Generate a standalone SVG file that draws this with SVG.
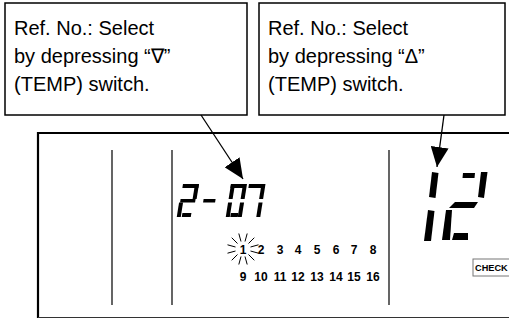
<svg xmlns="http://www.w3.org/2000/svg" width="509" height="320" viewBox="0 0 509 320">
<defs>
<style>
.box{fill:#fff;stroke:#000;stroke-width:1.5}
.t{font-family:"Liberation Sans",Arial,sans-serif;font-size:20px;fill:#000}
.n{font-family:"Liberation Sans",Arial,sans-serif;font-size:12px;font-weight:bold;fill:#000;text-anchor:middle}
.ck{font-family:"Liberation Sans",Arial,sans-serif;font-size:9.2px;font-weight:bold;fill:#000}
.ln{stroke:#000;stroke-width:1.2;fill:none}
.seg{fill:#000}
.ray{stroke:#000;stroke-width:1;fill:none}
.arr{stroke:#000;stroke-width:1.3;fill:none;marker-end:url(#ah)}
</style>
<marker id="ah" markerUnits="userSpaceOnUse" markerWidth="20" markerHeight="18" viewBox="0 0 20 18" refX="20" refY="9" orient="auto">
<path d="M0,0 L20,9 L0,18 z" fill="#000"/>
</marker>
</defs>

<g id="frame">
<path d="M38,318 V133 H509" fill="none" stroke="#000" stroke-width="2.2"/>
<path d="M38,317.5 H509" fill="none" stroke="#333" stroke-width="1.2"/>
<path class="ln" d="M112,150 V305 M172,150 V305 M389,150 V305"/>
</g>

<g id="callout-left">
<rect class="box" x="5" y="3" width="242" height="112"/>
<text class="t" x="14" y="35">Ref. No.: Select</text>
<text class="t" x="14" y="63">by depressing “∇”</text>
<text class="t" x="14" y="91">(TEMP) switch.</text>
</g>

<g id="callout-right">
<rect class="box" x="259" y="3" width="246" height="112"/>
<text class="t" x="268" y="35">Ref. No.: Select</text>
<text class="t" x="268" y="63">by depressing “Δ”</text>
<text class="t" x="268" y="91">(TEMP) switch.</text>
</g>

<g id="connectors">
<path class="arr" d="M201,115 L243,179"/>
<path class="arr" d="M444,115 L437,167"/>
</g>

<g id="ref-no-display">
<g transform="translate(182,184) skewX(-9)">
<rect class="seg" x="1" y="0" width="16" height="4"/>
<rect class="seg" x="13" y="0" width="4" height="15"/>
<rect class="seg" x="1" y="15" width="15" height="3.6"/>
<rect class="seg" x="0" y="18.6" width="4" height="14.4"/>
<rect class="seg" x="5" y="29" width="9" height="4"/>
</g>
<g transform="translate(206,184) skewX(-9)">
<rect class="seg" x="0" y="15" width="12" height="3.6"/>
</g>
<g transform="translate(231,184) skewX(-9)">
<rect class="seg" x="0" y="0" width="15" height="4"/>
<rect class="seg" x="0" y="0" width="4" height="15"/>
<rect class="seg" x="12" y="0" width="4" height="15"/>
<rect class="seg" x="0" y="18.6" width="4" height="14.4"/>
<rect class="seg" x="4.5" y="29" width="7.5" height="4"/>
<rect class="seg" x="12" y="18.6" width="4" height="14.4"/>
</g>
<g transform="translate(249,184) skewX(-9)">
<rect class="seg" x="0" y="0" width="16" height="4"/>
<rect class="seg" x="12.5" y="0" width="4" height="15"/>
<rect class="seg" x="12.5" y="18.6" width="4" height="14.4"/>
</g>
</g>

<g id="unit-numbers">
<g class="ray" transform="translate(243,249)">
<path d="M7.5,2 L15.5,4.2 M5.5,5.5 L11.3,11.3 M2,7.5 L4.2,15.5 M-2,7.5 L-4.2,15.5 M-5.5,5.5 L-11.3,11.3 M-7.5,2 L-15.5,4.2 M-7.5,-2 L-15.5,-4.2 M-5.5,-5.5 L-11.3,-11.3 M-2,-7.5 L-4.2,-15.5 M2,-7.5 L4.2,-15.5 M5.5,-5.5 L11.3,-11.3 M7.5,-2 L15.5,-4.2"/>
</g>
<text class="n" x="243" y="254">1</text>
<text class="n" x="261" y="254">2</text>
<text class="n" x="280" y="254">3</text>
<text class="n" x="298" y="254">4</text>
<text class="n" x="317" y="254">5</text>
<text class="n" x="336" y="254">6</text>
<text class="n" x="354" y="254">7</text>
<text class="n" x="373" y="254">8</text>
<text class="n" x="243" y="281">9</text>
<text class="n" x="261" y="281">10</text>
<text class="n" x="280" y="281">11</text>
<text class="n" x="298" y="281">12</text>
<text class="n" x="317" y="281">13</text>
<text class="n" x="336" y="281">14</text>
<text class="n" x="354" y="281">15</text>
<text class="n" x="373" y="281">16</text>
</g>

<g id="temp-display">
<polygon class="seg" points="432,172 438.5,173 435.5,198 429,197"/>
<polygon class="seg" points="428,210 434.5,211 431,241 424,241"/>
<polygon class="seg" points="463,173 475,173 474.5,178 462.5,178"/>
<polygon class="seg" points="481,172 487.5,172 484,198 478,197"/>
<polygon class="seg" points="455,202 478,202 474,208 449,208"/>
<polygon class="seg" points="446,210 452,210 450,240 442,240"/>
<polygon class="seg" points="454,233 468,233 468,240 452,240"/>
</g>

<g id="check">
<rect x="473" y="259" width="40" height="17" fill="#fff" stroke="#777" stroke-width="1"/>
<text class="ck" x="475" y="271">CHECK</text>
</g>
</svg>
